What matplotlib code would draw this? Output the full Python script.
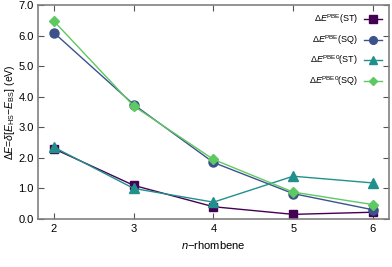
import matplotlib.pyplot as plt

n = [2, 3, 4, 5, 6]
pbe_st = [2.30, 1.10, 0.40, 0.15, 0.22]
pbe_sq = [6.10, 3.75, 1.85, 0.83, 0.30]
pbe0_st = [2.35, 1.00, 0.55, 1.40, 1.18]
pbe0_sq = [6.48, 3.70, 1.95, 0.88, 0.47]

plt.rcParams['font.family'] = ['Liberation Sans', 'DejaVu Sans']
plt.rcParams['mathtext.fontset'] = 'custom'
plt.rcParams['mathtext.it'] = 'Liberation Sans:italic'
plt.rcParams['mathtext.rm'] = 'Liberation Sans'

fig = plt.figure(figsize=(3.92, 2.67), dpi=100)
ax = fig.add_axes([0.097, 0.18, 0.895, 0.80])

ax.plot(n, pbe_st, color='#440154', marker='s', ms=6, lw=1,
        label=r'$\Delta E^{\mathrm{PBE}}$(ST)')
ax.plot(n, pbe_sq, color='#3b528b', marker='o', ms=6.5, lw=1,
        label=r'$\Delta E^{\mathrm{PBE}}$(SQ)')
ax.plot(n, pbe0_st, color='#21908d', marker='^', ms=6.5, lw=1,
        label=r'$\Delta E^{\mathrm{PBE0}}$(ST)')
ax.plot(n, pbe0_sq, color='#5ec962', marker='D', ms=5, lw=1,
        label=r'$\Delta E^{\mathrm{PBE0}}$(SQ)')

ax.set_xlim(1.8, 6.2)
ax.set_ylim(0, 7)
ax.set_xticks(n)
ax.set_yticks([0, 1, 2, 3, 4, 5, 6, 7])
ax.set_yticklabels([f'{v:.1f}' for v in range(8)])
ax.tick_params(direction='in', top=True, right=True, labelsize=8, length=4,
               color='#555555', pad=4)
ax.tick_params(axis='y', pad=3)
for s in ax.spines.values():
    s.set_color('#808080')
    s.set_linewidth(1.2)

ax.set_xlabel(r'$n$−rhombene', fontsize=8, labelpad=3)
ax.set_ylabel(r'$\Delta E$=$\delta$[$E_{\mathrm{HS}}$−$E_{\mathrm{BS}}$] (eV)',
              fontsize=7.5, labelpad=1)

ax.legend(loc='upper right', frameon=False, markerfirst=False, fontsize=6.5,
          handlelength=2.0, labelspacing=0.75, borderaxespad=0.4,
          handletextpad=0.6, markerscale=0.85)

fig.savefig('out.png', dpi=100)
